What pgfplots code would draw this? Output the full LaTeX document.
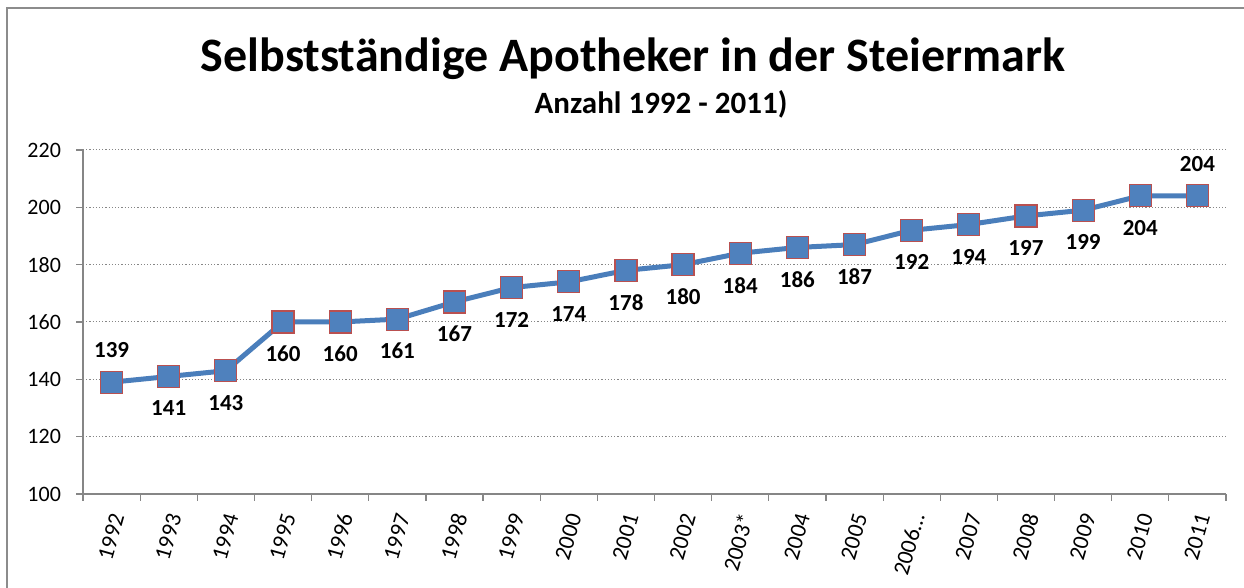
\documentclass[border=0pt]{standalone}
\usepackage{fontspec}
\setmainfont{Carlito}
\usepackage{pgfplots}
\pgfplotsset{compat=1.18}
\usepackage{pgfplotstable}
\definecolor{lineblue}{RGB}{74,126,187}
\definecolor{markfill}{RGB}{79,129,189}
\definecolor{markedge}{RGB}{185,80,80}
\definecolor{axisgray}{RGB}{134,134,134}
\definecolor{framegray}{RGB}{140,140,140}

\pgfplotstableread{
x y pos
0 139 1
1 141 -1
2 143 -1
3 160 -1
4 160 -1
5 161 -1
6 167 -1
7 172 -1
8 174 -1
9 178 -1
10 180 -1
11 184 -1
12 186 -1
13 187 -1
14 192 -1
15 194 -1
16 197 -1
17 199 -1
18 204 -1
19 204 1
}\data

\begin{document}
\begin{tikzpicture}
\useasboundingbox (0pt,0pt) rectangle (622pt,294pt);
\fill[white] (0pt,0pt) rectangle (622pt,294pt);
\draw[framegray, line width=1pt] (3.5pt,0pt) -- (3.5pt,290pt) -- (622pt,290pt);
\node[anchor=base, font=\bfseries\fontsize{24}{28}\selectfont] at (316.5pt,258pt) {Selbstständige Apotheker in der Steiermark};
\node[anchor=base, font=\bfseries\fontsize{15.5}{18}\selectfont] at (330.5pt,237pt) {Anzahl 1992 - 2011)};
\begin{axis}[
  at={(41.5pt,47pt)}, anchor=south west,
  scale only axis, width=571.5pt, height=172pt,
  xmin=-0.5, xmax=19.5, ymin=100, ymax=220,
  clip=false,
  axis lines=left, axis line style={axisgray, -, line width=0.6pt},
  tick align=outside, major tick length=3.5pt,
  tick style={axisgray, line width=0.6pt},
  ytick={100,120,...,220},
  ymajorgrids, grid style={axisgray, line width=0.5pt, dash pattern=on 0.6pt off 1pt},
  xtick={-0.5,0.5,...,19.5}, xticklabels={},
  extra x ticks={0,...,19},
  extra x tick labels={1992,1993,1994,1995,1996,1997,1998,1999,2000,2001,2002,2003*,2004,2005,2006…,2007,2008,2009,2010,2011},
  extra x tick style={major tick length=0pt},
  xticklabel style={xshift=3pt, yshift=-10pt, rotate=74, anchor=east, inner sep=0pt, font=\fontsize{11.5}{13}\selectfont},
  /pgf/number format/assume math mode=true,
  yticklabel style={font=\fontsize{11}{13}\selectfont, xshift=-4pt},
]
\addplot[lineblue, line width=2.5pt, mark=square*, mark size=5.5pt,
  mark options={fill=markfill, draw=markedge, line width=0.6pt},
  nodes near coords, point meta=explicit,
  visualization depends on={\thisrow{pos} \as \pos},
  every node near coord/.style={anchor=center, yshift=\pos*16pt, font=\bfseries\fontsize{11.5}{13}\selectfont, text=black}]
  table[x=x, y=y, meta=y] {\data};
\end{axis}
\end{tikzpicture}
\end{document}
